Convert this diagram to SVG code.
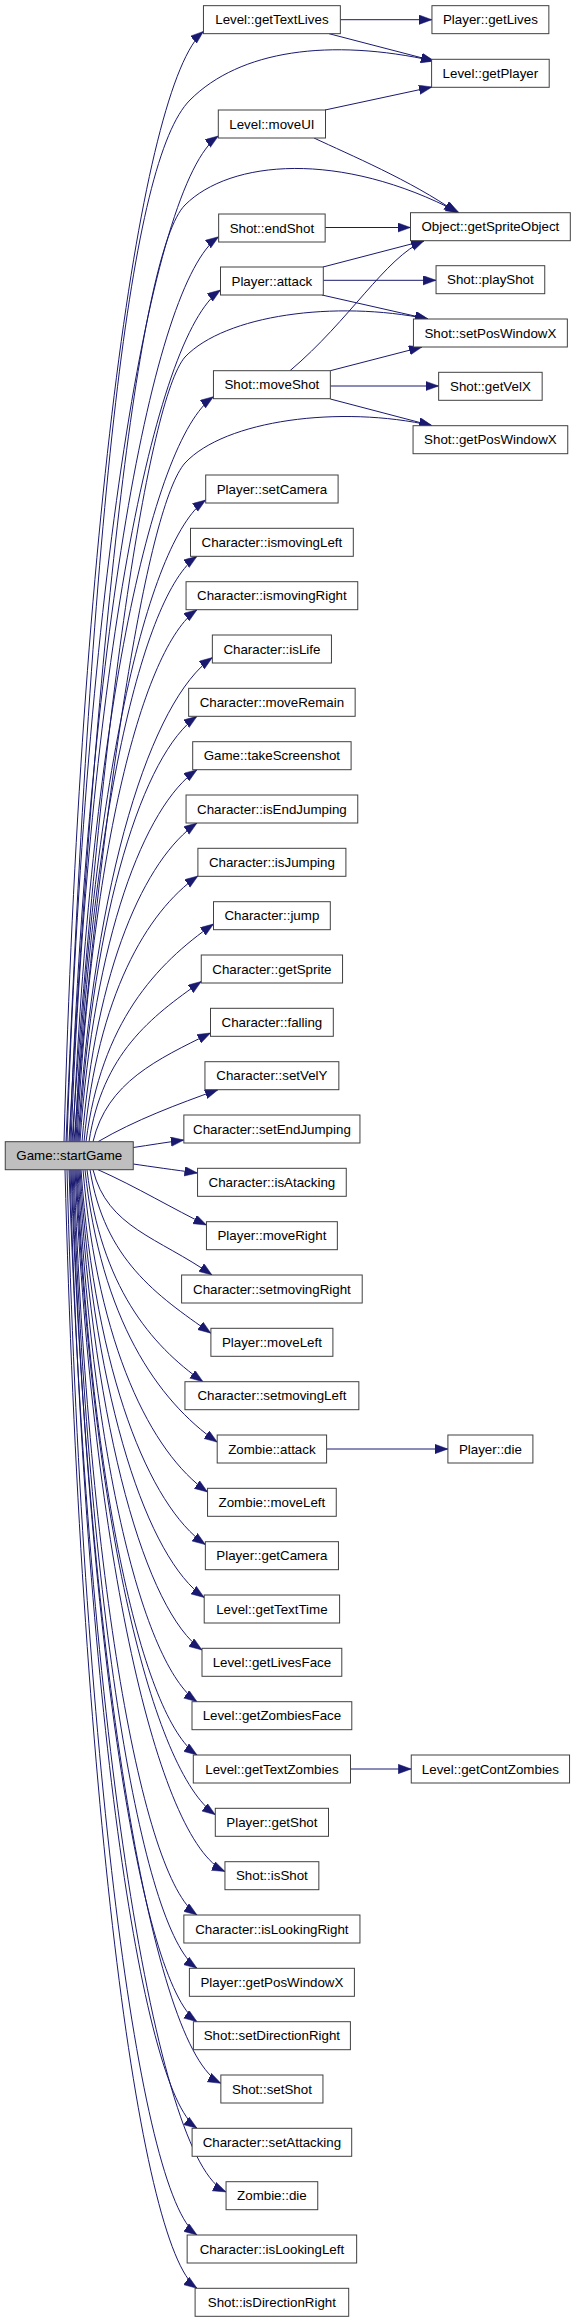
<svg xmlns="http://www.w3.org/2000/svg" width="573" height="2323" viewBox="0 0 573 2323">
<style>
.n rect{fill:#ffffff;stroke:#404040;stroke-width:1}
.n text{font-family:"Liberation Sans",Arial,sans-serif;font-size:13.33px;fill:#000;text-anchor:middle}
.root rect{fill:#bfbfbf}
.e path{fill:none;stroke:#191970;stroke-width:1;marker-end:url(#a)}
</style>
<defs>
<marker id="a" markerUnits="userSpaceOnUse" markerWidth="14" markerHeight="10" refX="13" refY="4.7" orient="auto">
<path d="M0,0 L13,4.7 L0,9.4 z" fill="#191970" stroke="#191970" stroke-width="0.5"/>
</marker>
</defs>
<rect x="0" y="0" width="573" height="2323" fill="#ffffff"/>
<g id="edges" class="e">
<path d="M64,1141.7 C80.7,531 140.7,84 203.45,31.4"/>
<path d="M66,1141.7 C93,500 130,160 190,100 C240,50 330,38 434,61"/>
<path d="M67,1141.7 C85.2,588.6 150.2,183.7 218.3,136"/>
<path d="M69,1141.7 C98,620 140,250 185,205 C230,160 340,150 459,212.7"/>
<path d="M70,1141.7 C87.8,644 151.75,283.5 218.65,236.7"/>
<path d="M71,1141.7 C88.9,673.3 153.2,337.1 220.5,290"/>
<path d="M72,1141.7 C101,720 148,400 185,357 C225,315 335,300 428,319"/>
<path d="M73,1141.7 C89.9,732 150.25,440.9 213.45,396.7"/>
<path d="M74,1141.7 C104,780 148,505 185,463 C225,420 340,405 432,425.7"/>
<path d="M75,1141.7 C90.7,788.8 146.9,541.2 205.7,500"/>
<path d="M76,1141.7 C90.5,819.7 142.55,594.4 197,556.3"/>
<path d="M77,1141.7 C91.4,849.1 143,647.5 197,609.7"/>
<path d="M78,1141.7 C94.1,875.5 151.9,699.9 212.35,657.6"/>
<path d="M79,1141.7 C93.2,907.7 143.9,753.5 197,716.3"/>
<path d="M80,1141.7 C94,937.1 144.35,806.6 197,769.7"/>
<path d="M82,1141.7 C95.8,966.4 145.25,859.2 197,823"/>
<path d="M84,1141.7 C97.7,995.6 146.65,911.9 197.9,876"/>
<path d="M86,1141.7 C101.3,1022 156.1,964.2 213.5,924"/>
<path d="M89,1141.7 C102.5,1053.6 150.75,1016.9 201.25,981.5"/>
<path d="M93,1141.7 C107.1,1081.9 157.6,1059.4 210.5,1033"/>
<path d="M98,1141.7 C135,1120 178,1104 218,1089.7"/>
<path d="M133.25,1147.5 C150,1145 165,1142.5 183.85,1140"/>
<path d="M133.25,1164 C150,1166.5 175,1170 197.55,1173"/>
<path d="M98,1169.7 C135,1186 175,1210 206.45,1225"/>
<path d="M93,1169.7 C107.3,1227.6 158.45,1237.5 212,1275"/>
<path d="M90,1169.7 C104.5,1259.6 156.5,1295.1 210.9,1333.2"/>
<path d="M87,1169.7 C100.9,1286.3 150.8,1345.2 203,1381.7"/>
<path d="M85,1169.7 C100.9,1319.5 157.7,1400.5 217.2,1442.1"/>
<path d="M83,1169.7 C97.9,1347 151.5,1452.8 207.55,1492"/>
<path d="M81,1169.7 C95.9,1375.9 149.4,1505.4 205.35,1544.6"/>
<path d="M80,1169.7 C94.9,1405 148.3,1558.4 204.2,1597.5"/>
<path d="M79,1169.7 C93.8,1433.9 146.65,1611.3 202,1650"/>
<path d="M78,1169.7 C92.3,1462.3 143.45,1664.2 197,1701.7"/>
<path d="M77,1169.7 C91.4,1491.6 143,1717.2 197,1755"/>
<path d="M76,1169.7 C92.7,1524.5 152.6,1770.8 215.3,1814.7"/>
<path d="M75,1169.7 C93,1555.7 157.45,1840 224.95,1871.5"/>
<path d="M74,1169.7 C88.8,1579.6 141.65,1876.3 197,1915"/>
<path d="M73,1169.7 C87.9,1608.9 141.2,1929.2 197,1968.3"/>
<path d="M72,1169.7 C87,1638.3 140.75,1982.3 197,2021.7"/>
<path d="M71,1169.7 C89,1672.2 153.4,2050 220.85,2083.3"/>
<path d="M70,1169.7 C85.2,1696.9 139.85,2088.3 197,2128.3"/>
<path d="M69,1169.7 C87.8,1731.9 155.4,2160 226.05,2191.9"/>
<path d="M67,1169.7 C82.6,1755.6 138.5,2194 197,2235"/>
<path d="M65,1169.7 C80.8,1784.9 137.6,2246.7 197,2288.3"/>
<path d="M340.35,19.7 L431.95,19.7"/>
<path d="M329,33.7 L434,61"/>
<path d="M325,110 L432,87"/>
<path d="M314,138 C350,155 410,180 457,212.7"/>
<path d="M325.15,227.5 L410.5,227.5"/>
<path d="M323,267 L424,240.7"/>
<path d="M323.3,280.3 L436.05,280.3"/>
<path d="M322,295 L428,319"/>
<path d="M290,370.7 C350,320 385,258 424,240.7"/>
<path d="M330.35,370.7 L422,347"/>
<path d="M330.35,386 L438.65,386"/>
<path d="M330.35,399 L432,425.7"/>
<path d="M326.6,1449 L447.9,1449"/>
<path d="M350.5,1769 L411.25,1769"/>
</g>
<g id="n_startGame" class="n root"><rect x="5.25" y="1141.7" width="128" height="28"/><text x="69.25" y="1160.4">Game::startGame</text></g>
<g id="n_getTextLives" class="n"><rect x="203.45" y="5.67" width="136.9" height="28"/><text x="271.9" y="24.4">Level::getTextLives</text></g>
<g id="n_moveUI" class="n"><rect x="218.3" y="110" width="107.2" height="28"/><text x="271.9" y="128.7">Level::moveUI</text></g>
<g id="n_endShot" class="n"><rect x="218.65" y="214" width="106.5" height="28"/><text x="271.9" y="232.7">Shot::endShot</text></g>
<g id="n_PlayerAttack" class="n"><rect x="220.5" y="267" width="102.8" height="28"/><text x="271.9" y="285.7">Player::attack</text></g>
<g id="n_moveShot" class="n"><rect x="213.45" y="370.7" width="116.9" height="28"/><text x="271.9" y="389.4">Shot::moveShot</text></g>
<g id="n_setCamera" class="n"><rect x="205.7" y="475" width="132.4" height="28"/><text x="271.9" y="493.7">Player::setCamera</text></g>
<g id="n_ismovingLeft" class="n"><rect x="190.5" y="528.3" width="162.8" height="28"/><text x="271.9" y="547">Character::ismovingLeft</text></g>
<g id="n_ismovingRight" class="n"><rect x="186.05" y="581.7" width="171.7" height="28"/><text x="271.9" y="600.4">Character::ismovingRight</text></g>
<g id="n_isLife" class="n"><rect x="212.35" y="635" width="119.1" height="28"/><text x="271.9" y="653.7">Character::isLife</text></g>
<g id="n_moveRemain" class="n"><rect x="188.65" y="688.3" width="166.5" height="28"/><text x="271.9" y="707">Character::moveRemain</text></g>
<g id="n_takeScreenshot" class="n"><rect x="192.7" y="741.7" width="158.4" height="28"/><text x="271.9" y="760.4">Game::takeScreenshot</text></g>
<g id="n_isEndJumping" class="n"><rect x="186.05" y="795" width="171.7" height="28"/><text x="271.9" y="813.7">Character::isEndJumping</text></g>
<g id="n_isJumping" class="n"><rect x="197.9" y="848.3" width="148" height="28"/><text x="271.9" y="867">Character::isJumping</text></g>
<g id="n_jump" class="n"><rect x="213.5" y="901.7" width="116.8" height="28"/><text x="271.9" y="920.4">Character::jump</text></g>
<g id="n_getSprite" class="n"><rect x="201.25" y="955" width="141.3" height="28"/><text x="271.9" y="973.7">Character::getSprite</text></g>
<g id="n_falling" class="n"><rect x="210.5" y="1008.3" width="122.8" height="28"/><text x="271.9" y="1027">Character::falling</text></g>
<g id="n_setVelY" class="n"><rect x="204.95" y="1061.7" width="133.9" height="28"/><text x="271.9" y="1080.4">Character::setVelY</text></g>
<g id="n_setEndJumping" class="n"><rect x="183.85" y="1115" width="176.1" height="28"/><text x="271.9" y="1133.7">Character::setEndJumping</text></g>
<g id="n_isAtacking" class="n"><rect x="197.55" y="1168.3" width="148.7" height="28"/><text x="271.9" y="1187">Character::isAtacking</text></g>
<g id="n_moveRight" class="n"><rect x="206.45" y="1221.7" width="130.9" height="28"/><text x="271.9" y="1240.4">Player::moveRight</text></g>
<g id="n_setmovingRight" class="n"><rect x="181.6" y="1275" width="180.6" height="28"/><text x="271.9" y="1293.7">Character::setmovingRight</text></g>
<g id="n_PlayerMoveLeft" class="n"><rect x="210.9" y="1328.3" width="122" height="28"/><text x="271.9" y="1347">Player::moveLeft</text></g>
<g id="n_setmovingLeft" class="n"><rect x="184.95" y="1381.7" width="173.9" height="28"/><text x="271.9" y="1400.4">Character::setmovingLeft</text></g>
<g id="n_ZombieAttack" class="n"><rect x="217.2" y="1435" width="109.4" height="28"/><text x="271.9" y="1453.7">Zombie::attack</text></g>
<g id="n_ZombieMoveLeft" class="n"><rect x="207.55" y="1488.3" width="128.7" height="28"/><text x="271.9" y="1507">Zombie::moveLeft</text></g>
<g id="n_getCamera" class="n"><rect x="205.35" y="1541.7" width="133.1" height="28"/><text x="271.9" y="1560.4">Player::getCamera</text></g>
<g id="n_getTextTime" class="n"><rect x="204.2" y="1595" width="135.4" height="28"/><text x="271.9" y="1613.7">Level::getTextTime</text></g>
<g id="n_getLivesFace" class="n"><rect x="202" y="1648.3" width="139.8" height="28"/><text x="271.9" y="1667">Level::getLivesFace</text></g>
<g id="n_getZombiesFace" class="n"><rect x="192" y="1701.7" width="159.8" height="28"/><text x="271.9" y="1720.4">Level::getZombiesFace</text></g>
<g id="n_getTextZombies" class="n"><rect x="193.3" y="1755" width="157.2" height="28"/><text x="271.9" y="1773.7">Level::getTextZombies</text></g>
<g id="n_getShot" class="n"><rect x="215.3" y="1808.3" width="113.2" height="28"/><text x="271.9" y="1827">Player::getShot</text></g>
<g id="n_isShot" class="n"><rect x="224.95" y="1861.7" width="93.9" height="28"/><text x="271.9" y="1880.4">Shot::isShot</text></g>
<g id="n_isLookingRight" class="n"><rect x="183.85" y="1915" width="176.1" height="28"/><text x="271.9" y="1933.7">Character::isLookingRight</text></g>
<g id="n_PlayerGetPosWindowX" class="n"><rect x="189.4" y="1968.3" width="165" height="28"/><text x="271.9" y="1987">Player::getPosWindowX</text></g>
<g id="n_setDirectionRight" class="n"><rect x="193.4" y="2021.7" width="157" height="28"/><text x="271.9" y="2040.4">Shot::setDirectionRight</text></g>
<g id="n_setShot" class="n"><rect x="220.85" y="2075" width="102.1" height="28"/><text x="271.9" y="2093.7">Shot::setShot</text></g>
<g id="n_setAttacking" class="n"><rect x="192.1" y="2128.3" width="159.6" height="28"/><text x="271.9" y="2147">Character::setAttacking</text></g>
<g id="n_ZombieDie" class="n"><rect x="226.05" y="2181.7" width="91.7" height="28"/><text x="271.9" y="2200.4">Zombie::die</text></g>
<g id="n_isLookingLeft" class="n"><rect x="187.15" y="2235" width="169.5" height="28"/><text x="271.9" y="2253.7">Character::isLookingLeft</text></g>
<g id="n_isDirectionRight" class="n"><rect x="195.1" y="2288.3" width="153.6" height="28"/><text x="271.9" y="2307">Shot::isDirectionRight</text></g>
<g id="n_getLives" class="n"><rect x="431.95" y="5.67" width="116.9" height="28"/><text x="490.4" y="24.4">Player::getLives</text></g>
<g id="n_getPlayer" class="n"><rect x="431.6" y="59.3" width="117.6" height="28"/><text x="490.4" y="78">Level::getPlayer</text></g>
<g id="n_getSpriteObject" class="n"><rect x="410.5" y="212.7" width="159.8" height="28"/><text x="490.4" y="231.4">Object::getSpriteObject</text></g>
<g id="n_playShot" class="n"><rect x="436.05" y="265.7" width="108.7" height="28"/><text x="490.4" y="284.4">Shot::playShot</text></g>
<g id="n_setPosWindowX" class="n"><rect x="413.45" y="319" width="153.9" height="28"/><text x="490.4" y="337.7">Shot::setPosWindowX</text></g>
<g id="n_getVelX" class="n"><rect x="438.65" y="372.3" width="103.5" height="28"/><text x="490.4" y="391">Shot::getVelX</text></g>
<g id="n_ShotGetPosWindowX" class="n"><rect x="413.05" y="425.7" width="154.7" height="28"/><text x="490.4" y="444.4">Shot::getPosWindowX</text></g>
<g id="n_PlayerDie" class="n"><rect x="447.9" y="1435" width="85" height="28"/><text x="490.4" y="1453.7">Player::die</text></g>
<g id="n_getContZombies" class="n"><rect x="411.25" y="1755" width="158.3" height="28"/><text x="490.4" y="1773.7">Level::getContZombies</text></g>
</svg>
